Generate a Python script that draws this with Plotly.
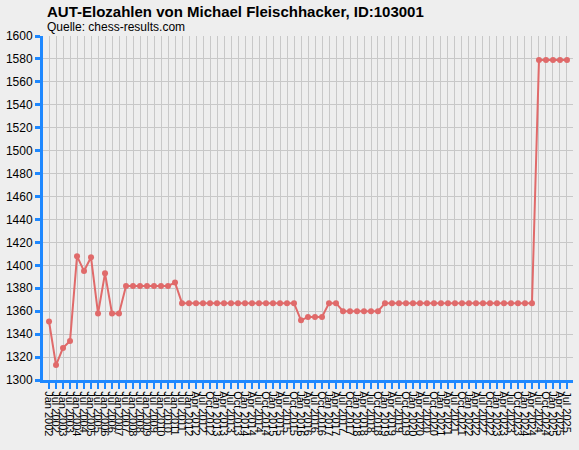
import plotly.graph_objects as go

# Elo-Listen: bis 2012 halbjaehrlich, danach vierteljaehrlich
dates = [
    "Jan 2002", "Jul 2002", "Jan 2003", "Jul 2003", "Jan 2004", "Jul 2004",
    "Jan 2005", "Jul 2005", "Jan 2006", "Jul 2006", "Jan 2007", "Jul 2007",
    "Jan 2008", "Jul 2008", "Jan 2009", "Jul 2009", "Jan 2010", "Jul 2010",
    "Jan 2011", "Jul 2011", "Jan 2012",
    "Apr 2012", "Jul 2012", "Oct 2012",
    "Jan 2013", "Apr 2013", "Jul 2013", "Oct 2013",
    "Jan 2014", "Apr 2014", "Jul 2014", "Oct 2014",
    "Jan 2015", "Apr 2015", "Jul 2015", "Oct 2015",
    "Jan 2016", "Apr 2016", "Jul 2016", "Oct 2016",
    "Jan 2017", "Apr 2017", "Jul 2017", "Oct 2017",
    "Jan 2018", "Apr 2018", "Jul 2018", "Oct 2018",
    "Jan 2019", "Apr 2019", "Jul 2019", "Oct 2019",
    "Jan 2020", "Apr 2020", "Jul 2020", "Oct 2020",
    "Jan 2021", "Apr 2021", "Jul 2021", "Oct 2021",
    "Jan 2022", "Apr 2022", "Jul 2022", "Oct 2022",
    "Jan 2023", "Apr 2023", "Jul 2023", "Oct 2023",
    "Jan 2024", "Apr 2024", "Jul 2024", "Oct 2024",
    "Jan 2025", "Apr 2025", "Jul 2025",
]

elo = [
    1351, 1313, 1328, 1334, 1408, 1395, 1407, 1358, 1393, 1358, 1358,
    1382, 1382, 1382, 1382, 1382, 1382, 1382, 1385,
    1367, 1367, 1367, 1367, 1367, 1367, 1367, 1367, 1367, 1367, 1367, 1367,
    1367, 1367, 1367, 1367, 1367,
    1352, 1355, 1355, 1355, 1367, 1367,
    1360, 1360, 1360, 1360, 1360, 1360,
    1367, 1367, 1367, 1367, 1367, 1367, 1367, 1367, 1367, 1367, 1367,
    1367, 1367, 1367, 1367, 1367, 1367, 1367, 1367, 1367, 1367, 1367,
    1579, 1579, 1579, 1579, 1579,
]

y_ticks = list(range(1300, 1601, 20))

blue = "#1E88FF"
bg = "#EEEEEE"
grid = "#C8C8C8"

fig = go.Figure()
fig.add_trace(go.Scatter(
    x=dates, y=elo, mode="lines+markers",
    line=dict(color="#E06A6A", width=2),
    marker=dict(color="#E06A6A", size=6),
))

fig.update_layout(
    width=579, height=450,
    margin=dict(l=43, r=6, t=36, b=70),
    paper_bgcolor=bg, plot_bgcolor=bg,
    showlegend=False,
    font=dict(family="Liberation Sans", color="black"),
    annotations=[
        dict(text="<b>AUT-Elozahlen von Michael Fleischhacker, ID:103001</b>",
             xref="paper", yref="paper", x=2 / 530, y=1 + 25 / 344,
             xanchor="left", yanchor="middle", showarrow=False,
             font=dict(size=15)),
        dict(text="Quelle: chess-results.com",
             xref="paper", yref="paper", x=2 / 530, y=1 + 9 / 344,
             xanchor="left", yanchor="middle", showarrow=False,
             font=dict(size=12)),
    ],
)

fig.update_xaxes(
    type="category", range=[-0.86, 74.86], automargin=False,
    tickmode="array", tickvals=dates, ticktext=dates,
    tickangle=90, tickfont=dict(size=11),
    showgrid=True, gridcolor=grid, gridwidth=1,
    showline=True, linecolor=blue, linewidth=3,
    ticks="outside", ticklen=6, tickwidth=2, tickcolor=blue,
    zeroline=False,
)
fig.update_yaxes(
    range=[1300, 1600], automargin=False,
    tickmode="array", tickvals=y_ticks,
    tickfont=dict(size=12),
    showgrid=True, gridcolor=grid, gridwidth=1,
    showline=True, linecolor=blue, linewidth=3,
    ticks="outside", ticklen=5, tickwidth=3, tickcolor=blue,
    zeroline=False,
)

# Seitenrand des Browsers entfernen, keine Modebar
fig.write_html("out.html",
               config={"displayModeBar": False},
               post_script="document.body.style.margin='0';"
                           "document.body.style.background='#EEEEEE';")
